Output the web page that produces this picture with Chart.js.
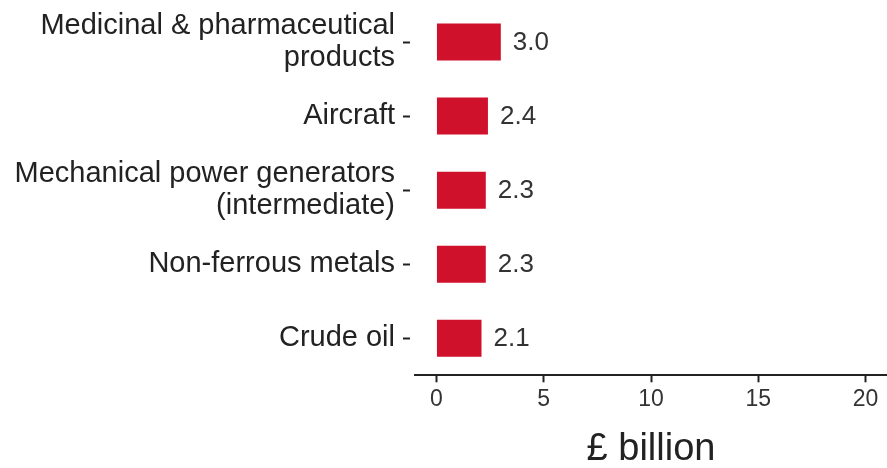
<!DOCTYPE html>
<html>
<head>
<meta charset="utf-8">
<script src="https://cdn.jsdelivr.net/npm/chart.js@4"></script>
<style>
  html, body { margin: 0; padding: 0; background: #fff; }
  #wrap { width: 887px; height: 468px; }
</style>
</head>
<body>
<div id="wrap"><canvas id="bars"></canvas></div>
<script>
var categories = [
    ['Medicinal & pharmaceutical', 'products'],
    'Aircraft',
    ['Mechanical power generators', '(intermediate)'],
    'Non-ferrous metals',
    'Crude oil'
];
var values = [3.0, 2.4, 2.3, 2.3, 2.1];
var xTicks = [0, 5, 10, 15, 20];

var barRed = '#d0112b';
var ink = '#222222';
var fontFamily = '"Liberation Sans", Arial, sans-serif';

// writes the value just past the end of each bar
var valueLabels = {
    id: 'valueLabels',
    afterDatasetsDraw: function(chart) {
        var ctx = chart.ctx;
        var meta = chart.getDatasetMeta(0);
        ctx.save();
        ctx.font = '26px ' + fontFamily;
        ctx.fillStyle = '#333';
        ctx.textAlign = 'left';
        ctx.textBaseline = 'middle';
        meta.data.forEach(function(bar, i) {
            ctx.fillText(values[i].toFixed(1), bar.x + 12, bar.y + 1);
        });
        ctx.restore();
    }
};

var ctx = document.getElementById('bars').getContext('2d');
var chart = new Chart(ctx, {
    type: 'bar',
    data: {
        labels: categories,
        datasets: [{
            data: values,
            backgroundColor: barRed,
            barPercentage: 0.5,
            categoryPercentage: 1.0
        }]
    },
    options: {
        indexAxis: 'y',
        responsive: true,
        maintainAspectRatio: false,
        animation: false,
        layout: { padding: { top: 5, right: 0, bottom: 0, left: 0 } },
        plugins: {
            legend: { display: false },
            tooltip: { enabled: false }
        },
        scales: {
            x: {
                min: -1,
                max: 21,
                afterBuildTicks: function(scale) {
                    scale.ticks = xTicks.map(function(v) { return { value: v }; });
                },
                grid: {
                    drawOnChartArea: false,
                    drawTicks: true,
                    tickLength: 7,
                    tickWidth: 2,
                    tickColor: ink
                },
                border: { display: true, color: ink, width: 2 },
                ticks: {
                    color: '#333',
                    padding: 4,
                    maxRotation: 0,
                    font: { family: fontFamily, size: 23 }
                },
                title: {
                    display: true,
                    text: '£ billion',
                    color: ink,
                    padding: { top: 14, bottom: 0 },
                    font: { family: fontFamily, size: 38, lineHeight: 0.95 }
                }
            },
            y: {
                afterFit: function(scale) {
                    // fixed label column; the two-line labels shouldn't push the plot down
                    scale.width = 415;
                    scale.paddingTop = 0;
                    scale.paddingBottom = 0;
                },
                grid: {
                    offset: false,
                    drawOnChartArea: false,
                    drawTicks: true,
                    tickLength: 12,
                    tickWidth: 2,
                    tickColor: ink,
                    tickBorderDash: [7, 20]
                },
                border: { display: false },
                ticks: {
                    color: ink,
                    padding: 8,
                    font: { family: fontFamily, size: 29, lineHeight: 1.1 }
                }
            }
        }
    },
    plugins: [valueLabels]
});
</script>
</body>
</html>
